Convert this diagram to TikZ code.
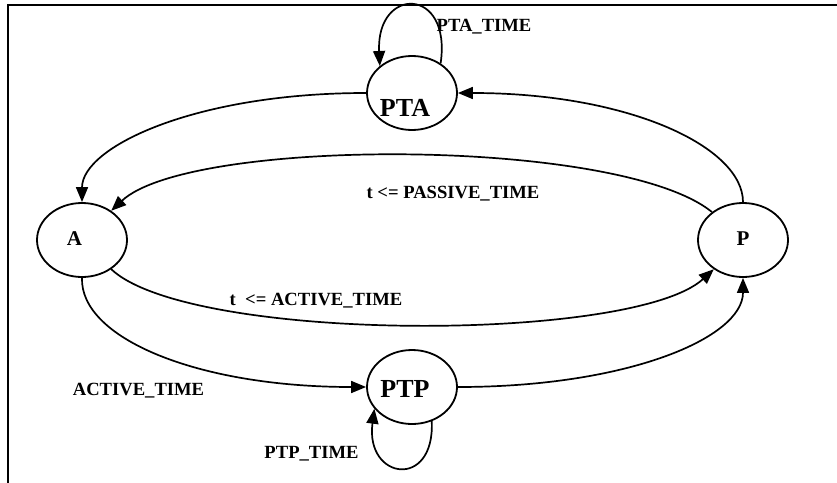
\documentclass[tikz,border=0pt]{standalone}
\usepackage{fontspec}
\setmainfont{Liberation Serif}
\usetikzlibrary{arrows.meta, shapes.geometric}
\tikzset{%
	state/.style={draw, ellipse, minimum width=90pt, minimum height=74pt, inner sep=0pt, line width=1.8pt},
	trans/.style={-{Triangle[length=15pt, width=12pt]}, line width=1.7pt},
	cond/.style={font=\bfseries\fontsize{18.6}{20}\selectfont, inner sep=0pt, anchor=base},
	smallname/.style={font=\bfseries\fontsize{21}{23}\selectfont},
	bigname/.style={font=\bfseries\fontsize{26}{28}\selectfont}
}
\begin{document}
\begin{tikzpicture}[x=1pt, y=-1pt]
	\useasboundingbox (0,0) rectangle (837,482);
	%frame
	\draw[line width=1.8pt] (845,5) -- (8,5) -- (8,490);

	%states
	\node[state, label={[smallname, xshift=-7.5pt, yshift=1pt]center:A}] (a) at (82,240) {};
	\node[state, label={[smallname, yshift=1pt]center:P}] (p) at (743,240) {};
	\node[state, label={[bigname, xshift=-7pt, yshift=-14.5pt]center:PTA}] (pta) at (412,93) {};
	\node[state, label={[bigname, xshift=-7pt, yshift=-2pt]center:PTP}] (ptp) at (412,387) {};

	%transitions
	\draw[trans] (pta.west) .. controls (195,93) and (82,147) .. (a.north);
	\draw[trans] (p.north) .. controls (743,147) and (629,93) .. (pta.east);
	\draw[trans] (p.138) .. controls (620,137) and (190,137) .. (a.45);
	\draw[trans] (a.-45) .. controls (190,343) and (633,343) .. (p.-135);
	\draw[trans] (a.south) .. controls (80,338) and (197,387) .. (ptp.west);
	\draw[trans] (ptp.east) .. controls (627,387) and (743,338) .. (p.south);
	\draw[trans] (pta.46) .. controls (452,-14) and (376,-14) .. (pta.140);
	\draw[trans] (ptp.-60) .. controls (435,490) and (365,480) .. (ptp.-150);

	%conditions
	\node[cond] (pta-time) at (484,31) {PTA\_TIME};
	\node[cond] (passive) at (453,198) {t <= PASSIVE\_TIME};
	\node[cond] (active) at (316,305) {t\ \ <= ACTIVE\_TIME};
	\node[cond] (active-time) at (138.5,395) {ACTIVE\_TIME};
	\node[cond] (ptp-time) at (311.5,458) {PTP\_TIME};
\end{tikzpicture}
\end{document}
